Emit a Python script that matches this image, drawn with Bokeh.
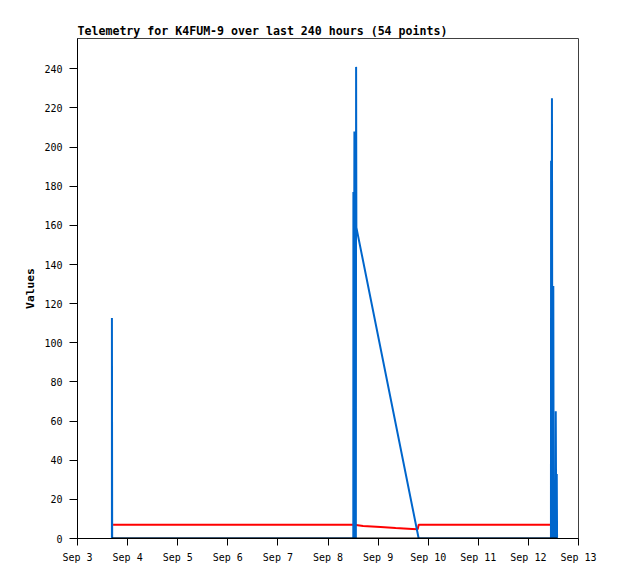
from bokeh.plotting import figure
from bokeh.models import Range1d, FixedTicker
from bokeh.embed import file_html
from bokeh.resources import INLINE

title_text = "Telemetry for K4FUM-9 over last 240 hours (54 points)"
y_label = "Values"

# time in day-of-month (September), fractional days
blue_t = [3.687, 3.687, 3.692, 8.505, 8.507, 8.513, 8.527, 8.533, 8.556, 8.561, 8.566, 9.810,
          12.450, 12.453, 12.460, 12.470, 12.480, 12.497, 12.505, 12.541, 12.546, 12.552, 12.566, 12.572]
blue_v = [0, 112.7, 0, 0, 177, 0, 208, 0, 0, 241, 159, 0,
          0, 193, 0, 225, 0, 129, 0, 0, 65, 25, 33, 0]

red_t = [3.71, 8.50, 8.56, 8.70, 9.05, 9.35, 9.68, 9.79, 9.81, 12.47]
red_v = [7.0, 7.0, 6.9, 6.4, 5.9, 5.4, 4.9, 4.7, 7.0, 7.0]

black_t = [3.687, 8.50, 9.81, 12.575]
black_v = [0, 0, 0, 0]

x_ticks = [3, 4, 5, 6, 7, 8, 9, 10, 11, 12, 13]
x_tick_labels = ["Sep 3", "Sep 4", "Sep 5", "Sep 6", "Sep 7", "Sep 8",
                 "Sep 9", "Sep 10", "Sep 11", "Sep 12", "Sep 13"]
y_ticks = [0, 20, 40, 60, 80, 100, 120, 140, 160, 180, 200, 220, 240]

p = figure(frame_width=501, frame_height=500,
           min_border_left=77, min_border_right=30, min_border_top=38, min_border_bottom=30,
           x_range=Range1d(3, 13), y_range=Range1d(0, 255.5),
           output_backend="svg", toolbar_location=None, title=title_text)

p.title.text_font = "DejaVu Sans Mono"
p.title.text_font_style = "bold"
p.title.text_font_size = "11.6px"
p.title.text_color = "black"
p.title.align = "left"
p.title.standoff = 2
p.title.offset = 0

p.outline_line_color = "#404040"
p.outline_line_width = 1
p.grid.visible = False

p.line(red_t, red_v, line_color="#ff0000", line_width=2)
p.line(blue_t, blue_v, line_color="#0066cc", line_width=2)
p.line(black_t, black_v, line_color="black", line_width=2)

xa = p.xaxis[0]
xa.ticker = FixedTicker(ticks=x_ticks)
xa.major_label_overrides = {t: l for t, l in zip(x_ticks, x_tick_labels)}
ya = p.yaxis[0]
ya.ticker = FixedTicker(ticks=y_ticks)
ya.axis_label = y_label
ya.axis_label_text_font = "DejaVu Sans Mono"
ya.axis_label_text_font_style = "bold"
ya.axis_label_text_font_size = "11.3px"
ya.axis_label_text_color = "black"
ya.axis_label_standoff = 4

for ax in (xa, ya):
    ax.axis_line_color = "black"
    ax.axis_line_width = 1
    ax.major_tick_line_color = "black"
    ax.major_tick_in = 0
    ax.minor_tick_line_color = None
    ax.major_label_text_font = "DejaVu Sans Mono"
    ax.major_label_text_font_size = "10px"
    ax.major_label_text_color = "black"
xa.major_tick_out = 7
xa.major_label_standoff = 6
ya.major_tick_out = 8
ya.major_label_standoff = 7

open("out.html", "w").write(file_html(p, INLINE))
